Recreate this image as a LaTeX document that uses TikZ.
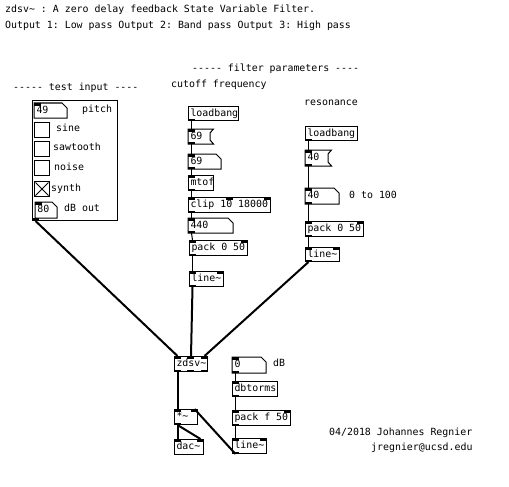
\documentclass[tikz,border=0pt]{standalone}
\usepackage{fontspec}
\setmonofont{DejaVu Sans Mono}
\newcommand{\pdfnt}{\ttfamily\fontsize{9.9}{12}\selectfont}
\newcommand{\pdtil}{\textasciitilde}
\newcommand{\pdbox}[7]{\pgfmathsetmacro{\pdtw}{#5-4}\node[#1, minimum height=#6pt] (#2) at (#3,#4) {\makebox[\pdtw pt][l]{#7}};}
\newcommand{\numshape}[1]{\draw[line width=1pt] (#1.north west) -- ([xshift=-5pt]#1.north east) -- ([yshift=-5pt]#1.north east) -- (#1.south east) -- (#1.south west) -- cycle;}
\newcommand{\msgshape}[1]{\draw[line width=1pt] (#1.north west) -- ([xshift=3.5pt]#1.north east) -- ([yshift=-4pt]#1.north east) -- ([yshift=4pt]#1.south east) -- ([xshift=3.5pt]#1.south east) -- (#1.south west) -- cycle;}
\newcommand{\pin}[2]{\fill ([xshift=#2]#1.north west) rectangle ++(7pt,-2.5pt);}
\newcommand{\pinr}[1]{\fill (#1.north east) rectangle ++(-7pt,-2.5pt);}
\newcommand{\pout}[2]{\fill ([xshift=#2]#1.south west) rectangle ++(7pt,2.5pt);}
\newcommand{\poutr}[1]{\fill (#1.south east) rectangle ++(-7pt,2.5pt);}
\tikzset{
  pd/.style={anchor=north west, inner xsep=2pt, inner ysep=0pt, font=\pdfnt, text height=7.5pt, text depth=2pt, line width=1pt},
  pdobj/.style={pd, draw},
  pdnum/.style={pd},
  pdcom/.style={anchor=west, inner sep=0pt, font=\pdfnt, text height=7.5pt, text depth=2pt},
  ctl/.style={line width=1pt},
  sig/.style={line width=2pt},
}
\begin{document}
\begin{tikzpicture}[x=1pt,y=-1pt]
\useasboundingbox (0,0) rectangle (509,487);
\fill[white] (0,0) rectangle (509,487);

% comments
\node[pdcom] (t1) at (5,10) {zdsv\pdtil{} : A zero delay feedback State Variable Filter.};
\node[pdcom] (t2) at (5,26) {Output 1: Low pass Output 2: Band pass Output 3: High pass};
\node[pdcom] (cfp) at (192,69) {----- filter parameters ----};
\node[pdcom] (ccut) at (171,85) {cutoff frequency};
\node[pdcom] (ctest) at (13,88) {----- test input ----};
\node[pdcom] (cres) at (304,103) {resonance};
\node[pdcom] (c0100) at (349,196) {0 to 100};
\node[pdcom] (cdb) at (273,364) {dB};
\node[pdcom] (cauth) at (329,433) {04/2018 Johannes Regnier};
\node[pdcom] (cmail) at (371,448) {jregnier@ucsd.edu};

% test input GOP
\node[draw, line width=1pt, anchor=north west, inner sep=0pt, minimum width=85pt, minimum height=120pt] (gop) at (32,100) {};
\pdbox{pdnum}{n49}{34}{103}{32}{14}{49}
\numshape{n49}
\node[pdcom] (cpitch) at (82,110) {pitch};
\pdbox{pdobj}{tsine}{34}{122}{15}{15}{}
\node[pdcom] (csine) at (56,129) {sine};
\pdbox{pdobj}{tsaw}{34}{141}{15}{15}{}
\node[pdcom] (csaw) at (53,148) {sawtooth};
\pdbox{pdobj}{tnoise}{34}{160}{15}{15}{}
\node[pdcom] (cnoise) at (54,168) {noise};
\pdbox{pdobj}{tsynth}{34}{181}{15}{15}{}
\draw[line width=0.8pt] ([shift={(1.5pt,-1.5pt)}]tsynth.north west) -- ([shift={(-1.5pt,1.5pt)}]tsynth.south east);
\draw[line width=0.8pt] ([shift={(-1.5pt,-1.5pt)}]tsynth.north east) -- ([shift={(1.5pt,1.5pt)}]tsynth.south west);
\node[pdcom] (csynth) at (51,189) {synth};
\pdbox{pdnum}{n80}{35}{202}{21}{15}{80}
\numshape{n80}
\node[pdcom] (cdbout) at (64,209) {dB out};
\pin{n49}{0pt}
\pin{n80}{0pt}
\fill (gop.south west) rectangle ++(7pt,3pt);

% cutoff chain
\pdbox{pdobj}{lb1}{188}{106}{50}{14}{loadbang}
\pdbox{pdnum}{m69}{188}{129}{21}{14}{69}
\msgshape{m69}
\pdbox{pdnum}{n69}{188}{154}{32}{14}{69}
\numshape{n69}
\pdbox{pdobj}{mtof}{188}{175}{25}{15}{mtof}
\pdbox{pdobj}{clip}{188}{197}{82}{15}{clip 10 18000}
\pdbox{pdnum}{n440}{188}{218}{44}{14}{440}
\numshape{n440}
\pdbox{pdobj}{pack1}{189}{240}{58}{15}{pack 0 50}
\pdbox{pdobj}{line1}{189}{271}{34}{15}{line\pdtil}

% resonance chain
\pdbox{pdobj}{lb2}{305}{126}{52}{14}{loadbang}
\pdbox{pdnum}{m40}{305}{150}{22}{15}{40}
\msgshape{m40}
\pdbox{pdnum}{n40}{305}{188}{33}{15}{40}
\numshape{n40}
\pdbox{pdobj}{pack2}{305}{221}{58}{15}{pack 0 50}
\pdbox{pdobj}{line2}{305}{247}{34}{14}{line\pdtil}

% bottom
\pdbox{pdobj}{zdsv}{174}{356}{33}{15}{zdsv\pdtil}
\pdbox{pdnum}{n0}{232}{357}{33}{15}{0}
\numshape{n0}
\pdbox{pdobj}{dbt}{232}{381}{45}{15}{dbtorms}
\pdbox{pdobj}{packf}{232}{410}{58}{15}{pack f 50}
\pdbox{pdobj}{line3}{232}{438}{34}{15}{line\pdtil}
\pdbox{pdobj}{mul}{174}{409}{23}{15}{*\pdtil}
\pdbox{pdobj}{dac}{174}{439}{29}{15}{dac\pdtil}

% control connections
\draw[ctl] ([xshift=3.5pt]lb1.south west) -- ([xshift=3.5pt]m69.north west);
\draw[ctl] ([xshift=3.5pt]m69.south west) -- ([xshift=3.5pt]n69.north west);
\draw[ctl] ([xshift=3.5pt]n69.south west) -- ([xshift=3.5pt]mtof.north west);
\draw[ctl] ([xshift=3.5pt]mtof.south west) -- ([xshift=3.5pt]clip.north west);
\draw[ctl] ([xshift=3.5pt]clip.south west) -- ([xshift=3.5pt]n440.north west);
\draw[ctl] ([xshift=3.5pt]n440.south west) -- ([xshift=3.5pt]pack1.north west);
\draw[ctl] ([xshift=3.5pt]pack1.south west) -- ([xshift=3.5pt]line1.north west);
\draw[ctl] ([xshift=3.5pt]lb2.south west) -- ([xshift=3.5pt]m40.north west);
\draw[ctl] ([xshift=3.5pt]m40.south west) -- ([xshift=3.5pt]n40.north west);
\draw[ctl] ([xshift=3.5pt]n40.south west) -- ([xshift=3.5pt]pack2.north west);
\draw[ctl] ([xshift=3.5pt]pack2.south west) -- ([xshift=3.5pt]line2.north west);
\draw[ctl] ([xshift=3.5pt]n0.south west) -- ([xshift=3.5pt]dbt.north west);
\draw[ctl] ([xshift=3.5pt]dbt.south west) -- ([xshift=3.5pt]packf.north west);
\draw[ctl] ([xshift=3.5pt]packf.south west) -- ([xshift=3.5pt]line3.north west);

% signal connections
\draw[sig] ([xshift=3.5pt]gop.south west) -- ([xshift=3.5pt]zdsv.north west);
\draw[sig] ([xshift=3.5pt]line1.south west) -- (zdsv.north);
\draw[sig] ([xshift=3.5pt]line2.south west) -- ([xshift=-3.5pt]zdsv.north east);
\draw[sig] ([xshift=3.5pt]zdsv.south west) -- ([xshift=3.5pt]mul.north west);
\draw[sig] ([xshift=3.5pt]mul.south west) -- ([xshift=3.5pt]dac.north west);
\draw[sig] ([xshift=3.5pt]mul.south west) -- ([xshift=-3.5pt]dac.north east);
\draw[sig] ([xshift=3.5pt]line3.south west) -- ([xshift=-3.5pt]mul.north east);

% ports
\pout{lb1}{0pt}
\pin{m69}{0pt} \pout{m69}{0pt}
\pin{n69}{0pt} \pout{n69}{0pt}
\pin{mtof}{0pt} \pout{mtof}{0pt}
\pin{clip}{0pt} \pin{clip}{37.5pt} \pinr{clip} \pout{clip}{0pt}
\pin{n440}{0pt} \pout{n440}{0pt}
\pin{pack1}{0pt} \pinr{pack1} \pout{pack1}{0pt}
\pin{line1}{0pt} \pinr{line1} \pout{line1}{0pt}
\pout{lb2}{0pt}
\pin{m40}{0pt} \pout{m40}{0pt}
\pin{n40}{0pt} \pout{n40}{0pt}
\pin{pack2}{0pt} \pinr{pack2} \pout{pack2}{0pt}
\pin{line2}{0pt} \pinr{line2} \pout{line2}{0pt}
\pin{zdsv}{0pt} \pin{zdsv}{13pt} \pinr{zdsv}
\pout{zdsv}{0pt} \pout{zdsv}{13pt} \poutr{zdsv}
\pin{n0}{0pt} \pout{n0}{0pt}
\pin{dbt}{0pt} \pout{dbt}{0pt}
\pin{packf}{0pt} \pinr{packf} \pout{packf}{0pt}
\pin{line3}{0pt} \pinr{line3} \pout{line3}{0pt}
\pin{mul}{0pt} \pinr{mul} \pout{mul}{0pt}
\pin{dac}{0pt} \pinr{dac}
\end{tikzpicture}
\end{document}
